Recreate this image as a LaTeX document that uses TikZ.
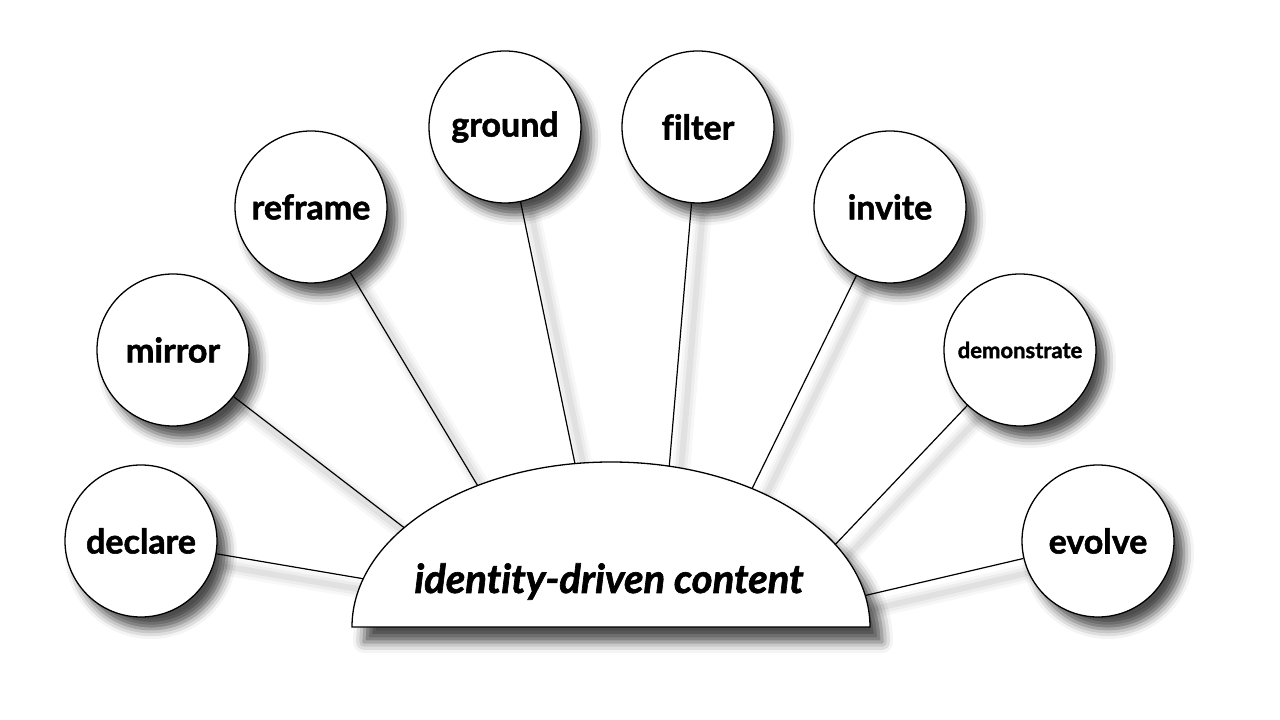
\documentclass[tikz,border=0pt]{standalone}
\usepackage{fontspec}
\setmainfont{Lato}[Ligatures=NoCommon, BoldFeatures={FakeBold=1.6}, BoldItalicFeatures={FakeBold=1.6}]
\usetikzlibrary{shadows.blur,backgrounds,calc}
\begin{document}
\begin{tikzpicture}[x=1pt,y=1pt,
  softshadow/.style={blur shadow={shadow xshift=10pt, shadow yshift=-12pt, shadow blur radius=10pt, shadow opacity=70}},
  bub/.style={circle, draw=black, line width=1.3pt, fill=white, minimum size=152pt, inner sep=0pt,
    font=\fontsize{34}{38}\selectfont\bfseries, softshadow},
  hub/.style={draw=black, line width=1.3pt, fill=white,
    blur shadow={shadow xshift=12pt, shadow yshift=-15pt, shadow blur radius=11pt, shadow opacity=70}},
  link/.style={draw=black, line width=1.2pt},
  lsh/.style={draw=black, line cap=round}]
\useasboundingbox (0,0) rectangle (1280,720);

% central half-ellipse
\path[hub] (352,93) arc[start angle=180, end angle=0, x radius=259, y radius=165] -- cycle;
\node[font=\fontsize{40}{44}\selectfont\bfseries\itshape, anchor=base] (hubtext) at (609,127) {identity-driven content};

% circles
\node[bub] (declare) at (141,179) {declare};
\node[bub] (mirror) at (173,370) {mirror};
\node[bub] (reframe) at (311,513) {reframe};
\node[bub] (ground) at (505,593) {ground};
\node[bub] (filter) at (698,593) {filter};
\node[bub] (invite) at (890,513) {invite};
\node[bub, font=\fontsize{22}{26}\selectfont\bfseries] (demonstrate) at (1020,370) {demonstrate};
\node[bub] (evolve) at (1098,179) {evolve};

% anchor points on the half-ellipse
\coordinate (c0) at (611,93);
\coordinate (e1) at ($(c0)+(163:259 and 165)$);
\coordinate (e2) at ($(c0)+(143:259 and 165)$);
\coordinate (e3) at ($(c0)+(121:259 and 165)$);
\coordinate (e4) at ($(c0)+(98:259 and 165)$);
\coordinate (e5) at ($(c0)+(77:259 and 165)$);
\coordinate (e6) at ($(c0)+(57:259 and 165)$);
\coordinate (e7) at ($(c0)+(30:259 and 165)$);
\coordinate (e8) at ($(c0)+(11:259 and 165)$);

% connector shadows
\begin{scope}[on background layer]
\foreach \n/\e in {declare/e1,mirror/e2,reframe/e3,ground/e4,filter/e5,invite/e6,demonstrate/e7,evolve/e8}{
  \begin{scope}[transform canvas={shift={(11pt,-13pt)}}]
    \draw[lsh, line width=18pt, opacity=0.03] (\n) -- (\e);
    \draw[lsh, line width=12pt, opacity=0.04] (\n) -- (\e);
    \draw[lsh, line width=6pt, opacity=0.05] (\n) -- (\e);
  \end{scope}
}
\end{scope}

% connectors
\foreach \n/\e in {declare/e1,mirror/e2,reframe/e3,ground/e4,filter/e5,invite/e6,demonstrate/e7,evolve/e8}{
  \draw[link] (\n) -- (\e);
}
\end{tikzpicture}
\end{document}
